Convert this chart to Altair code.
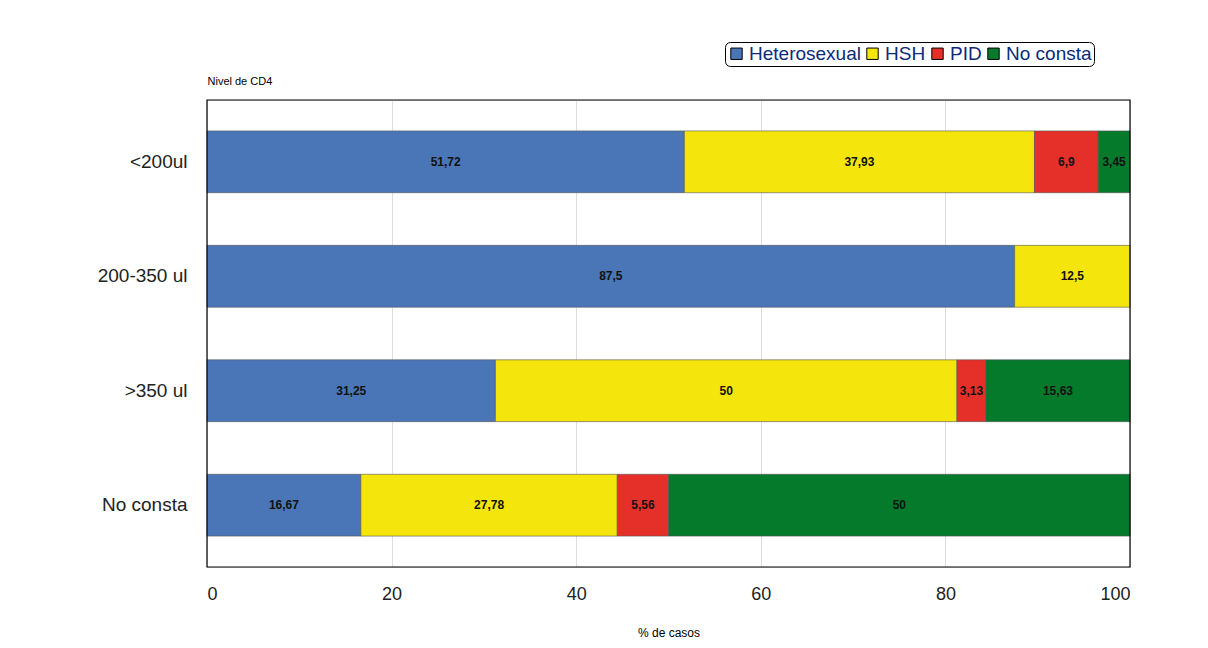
import altair as alt
import pandas as pd

categories = ["<200ul", "200-350 ul", ">350 ul", "No consta"]
groups = ["Heterosexual", "HSH", "PID", "No consta"]
colors = ["#4a76b8", "#f4e60c", "#e5302a", "#047a2a"]
values = {
    "<200ul": [51.72, 37.93, 6.9, 3.45],
    "200-350 ul": [87.5, 12.5, 0, 0],
    ">350 ul": [31.25, 50, 3.13, 15.63],
    "No consta": [16.67, 27.78, 5.56, 50],
}
labels = {
    "<200ul": ["51,72", "37,93", "6,9", "3,45"],
    "200-350 ul": ["87,5", "12,5", "", ""],
    ">350 ul": ["31,25", "50", "3,13", "15,63"],
    "No consta": ["16,67", "27,78", "5,56", "50"],
}

rows = []
for c in categories:
    start = 0
    for i, g in enumerate(groups):
        v = values[c][i]
        if v > 0:
            rows.append(dict(cat=c, grp=g, order=i, x0=start, x1=start + v,
                             mid=start + v / 2, lab=labels[c][i]))
        start += v
df = pd.DataFrame(rows)

y = alt.Y("cat:N", sort=categories,
          scale=alt.Scale(paddingInner=0.46, paddingOuter=0.27),
          axis=alt.Axis(title="Nivel de CD4", titleAngle=0, titleAlign="left",
                        titleX=0, titleY=-14, titleFontSize=11, titleFontWeight="normal",
                        labelFontSize=19, labelColor="#222", ticks=False, labelPadding=20,
                        domain=False, grid=False))

bars = alt.Chart(df).mark_bar(stroke="#555", strokeWidth=0.6).encode(
    x=alt.X("x0:Q", scale=alt.Scale(domain=[0, 100], nice=False),
            axis=alt.Axis(values=[0, 20, 40, 60, 80, 100], title="% de casos",
                          titleFontSize=12, titleFontWeight="normal", titlePadding=24,
                          labelFontSize=18, labelColor="#222", ticks=False,
                          labelPadding=18, grid=True, gridColor="#ddd", domain=False)),
    x2="x1:Q",
    y=y,
    color=alt.Color("grp:N", sort=groups,
                    scale=alt.Scale(domain=groups, range=colors),
                    legend=alt.Legend(title=None, orient="none", legendX=518, legendY=-58,
                                      direction="horizontal", symbolType="square",
                                      symbolStrokeColor="#000", symbolStrokeWidth=1,
                                      symbolSize=130, labelFontSize=19, columnPadding=2,
                                      symbolOffset=0, labelOffset=3,
                                      labelColor="#0a2a7a",
                                      strokeColor="#000", cornerRadius=5, padding=2)),
    order="order:Q",
)

text = alt.Chart(df).mark_text(fontSize=12, fontWeight="bold", color="#111").encode(
    x="mid:Q", y=alt.Y("cat:N", sort=categories), text="lab:N")

frame = alt.Chart(pd.DataFrame({"a": [0]})).mark_rect(
    fill=None, stroke="#000", strokeWidth=1.2).encode(
    x=alt.value(0), x2=alt.value(923), y=alt.value(0), y2=alt.value(467))

chart = alt.layer(bars, text, frame).properties(
    width=923, height=467,
    autosize=alt.AutoSizeParams(type="none"),
    padding={"left": 199, "top": 92, "right": 70, "bottom": 70},
).configure_view(stroke=None).configure(font="Liberation Sans", background="white")

chart.save("out.html", embed_options={"renderer": "svg", "actions": False})
